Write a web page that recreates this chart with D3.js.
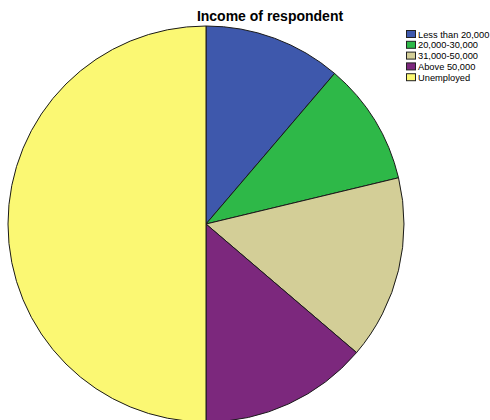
<!DOCTYPE html>
<html><head><meta charset="utf-8">
<script src="https://cdn.jsdelivr.net/npm/d3@7"></script>
<style>body{margin:0;background:#fff;}svg{display:block;}</style>
</head><body>
<script>
const categories = ["Less than 20,000", "20,000-30,000", "31,000-50,000", "Above 50,000", "Unemployed"];
const counts = [9, 8, 12, 11, 40];
const colors = ["#3E58AC", "#2EB848", "#D3CE97", "#7C287D", "#FBF873"];
const title = "Income of respondent";

const W = 490, H = 420;
const svg = d3.select("body").append("svg").attr("width", W).attr("height", H);
const cx = 206, cy = 224, R = 198;

const data = categories.map((c, i) => ({cat: c, value: counts[i], color: colors[i]}));
const pie = d3.pie().value(d => d.value).sort(null);
const arc = d3.arc().innerRadius(0).outerRadius(R);

svg.append("g").attr("transform", `translate(${cx},${cy})`)
  .selectAll("path").data(pie(data)).join("path")
  .attr("d", arc)
  .attr("fill", d => d.data.color)
  .attr("stroke", "#1a1a1a")
  .attr("stroke-width", 1);

svg.append("text").attr("x", 270).attr("y", 21)
  .attr("text-anchor", "middle")
  .attr("font-family", "Arial, 'Liberation Sans', sans-serif")
  .attr("font-weight", "bold").attr("font-size", 14)
  .attr("fill", "#000").text(title);

const lg = svg.append("g").attr("transform", "translate(406,30)");
const rows = lg.selectAll("g").data(data).join("g")
  .attr("transform", (d, i) => `translate(0,${i * 10.8})`);
rows.append("rect").attr("x", 0.5).attr("y", 0.5).attr("width", 9).attr("height", 7)
  .attr("fill", d => d.color).attr("stroke", "#222").attr("stroke-width", 1);
rows.append("text").attr("x", 12).attr("y", 7.5)
  .attr("font-family", "Arial, 'Liberation Sans', sans-serif")
  .attr("font-size", 9.3).attr("fill", "#000").text(d => d.cat);
</script>
</body></html>
